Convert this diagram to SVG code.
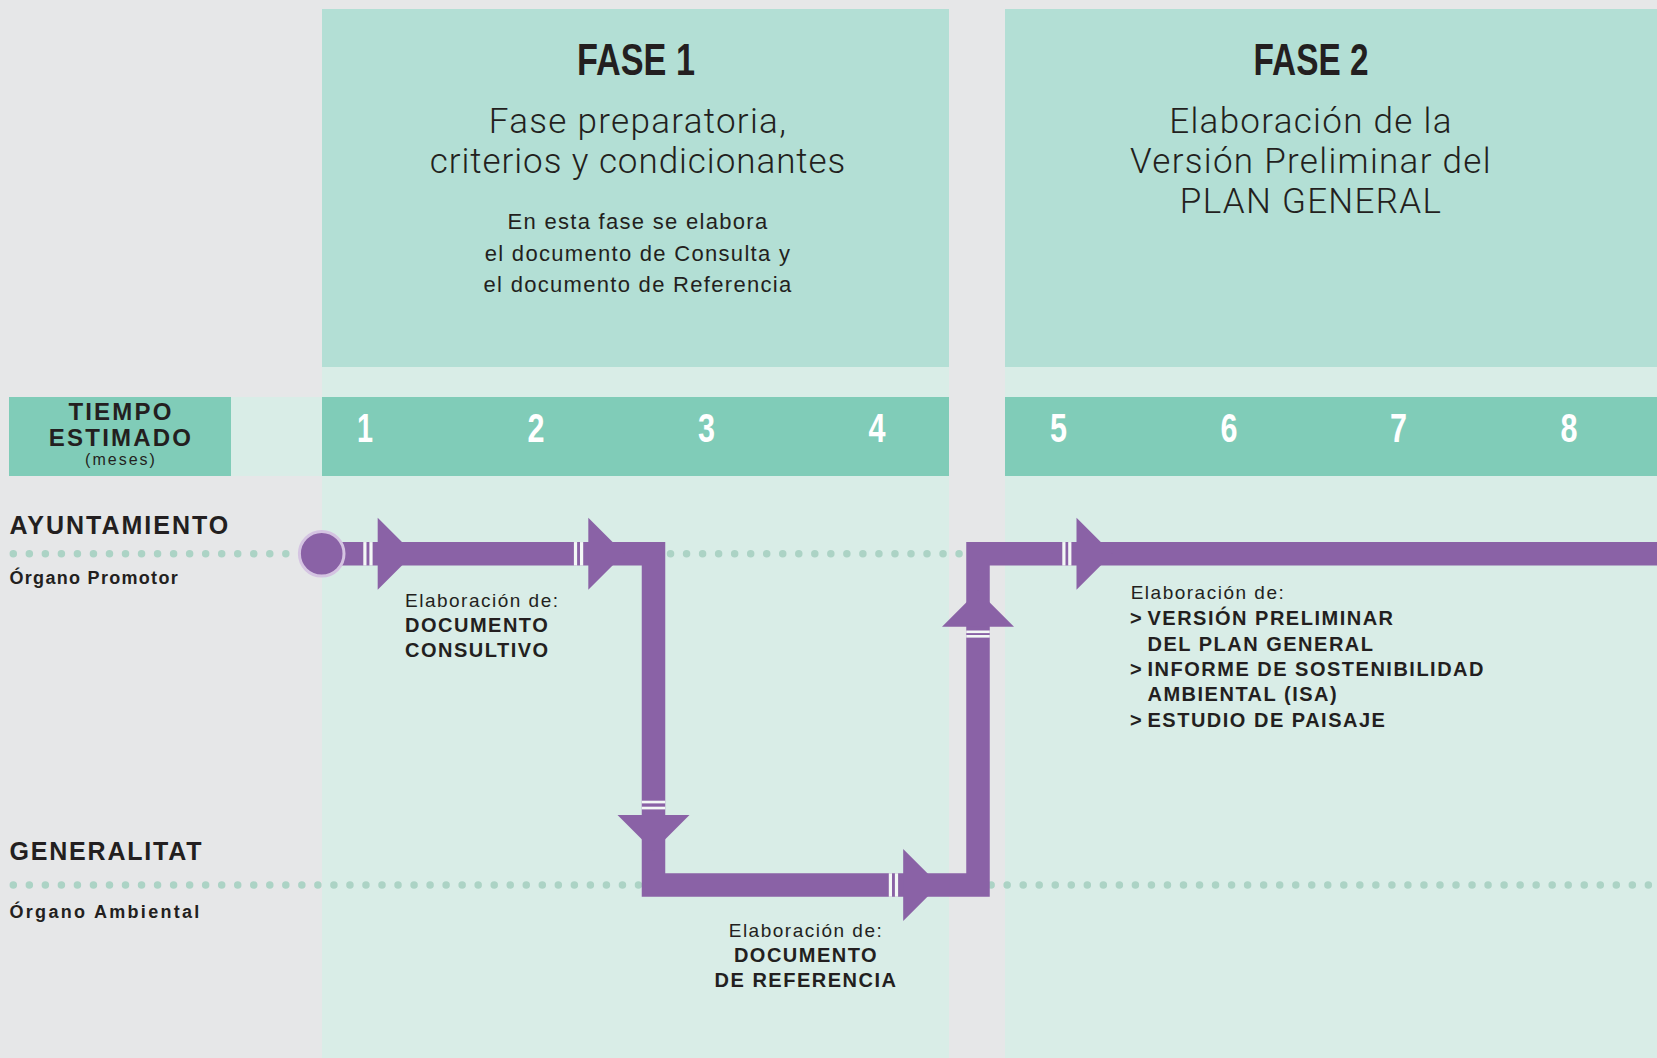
<svg xmlns="http://www.w3.org/2000/svg" width="1657" height="1058" viewBox="0 0 1657 1058">
<style>
.bg{fill:#e6e7e8}
.pale{fill:#d9ede7}
.phase{fill:#b3dfd5}
.teal{fill:#80ccb8}
.title{font-family:"Liberation Sans",Arial,sans-serif;font-weight:700;font-size:45px;fill:#231f20}
.sub{font-family:Roboto,"Liberation Sans",sans-serif;font-weight:300;font-size:35px;letter-spacing:1.3px;fill:#231f20}
.desc{font-family:"Liberation Sans",Arial,sans-serif;font-size:22px;letter-spacing:1.3px;fill:#231f20}
.num{font-family:"Liberation Sans",Arial,sans-serif;font-weight:700;font-size:40px;fill:#ffffff}
.hdr{font-family:"Liberation Sans",Arial,sans-serif;font-weight:700;font-size:24px;letter-spacing:2.2px;fill:#231f20}
.lane{font-family:"Liberation Sans",Arial,sans-serif;font-weight:700;font-size:25px;letter-spacing:2px;fill:#231f20}
.meses{font-family:"Liberation Sans",Arial,sans-serif;font-size:16px;letter-spacing:2px;fill:#231f20}
.sublane{font-family:"Liberation Sans",Arial,sans-serif;font-weight:700;font-size:18px;fill:#231f20}
.lbl{font-family:"Liberation Sans",Arial,sans-serif;font-size:19px;letter-spacing:1.5px;fill:#231f20}
.lblb{font-family:"Liberation Sans",Arial,sans-serif;font-weight:700;font-size:20px;letter-spacing:1.5px;fill:#231f20}
.dots{stroke:#acd3c5;stroke-width:7.5;stroke-linecap:round;stroke-dasharray:0 16.03;fill:none}
.pipe{stroke:#8a62a6;stroke-width:23.5;fill:none;stroke-linejoin:miter;stroke-linecap:butt}
.arrow{fill:#8a62a6}
.sep{fill:#f3f8f6}
</style>
<rect class="bg" x="0" y="0" width="1657" height="1058"/>

<g id="fase1">
  <rect class="pale" x="322" y="9" width="627" height="1049"/>
  <rect class="phase" x="322" y="9" width="627" height="358"/>
  <text class="title" x="636" y="75" text-anchor="middle" textLength="118" lengthAdjust="spacingAndGlyphs">FASE 1</text>
  <text class="sub" x="638" y="133" text-anchor="middle">Fase preparatoria,</text>
  <text class="sub" x="638" y="173" text-anchor="middle" style="letter-spacing:0.95px">criterios y condicionantes</text>
  <text class="desc" x="638" y="229.3" text-anchor="middle">En esta fase se elabora</text>
  <text class="desc" x="638" y="261" text-anchor="middle">el documento de Consulta y</text>
  <text class="desc" x="638" y="292" text-anchor="middle">el documento de Referencia</text>
</g>

<g id="fase2">
  <rect class="pale" x="1005" y="9" width="652" height="1049"/>
  <rect class="phase" x="1005" y="9" width="652" height="358"/>
  <text class="title" x="1311" y="75" text-anchor="middle" textLength="115" lengthAdjust="spacingAndGlyphs">FASE 2</text>
  <text class="sub" x="1311" y="133" text-anchor="middle">Elaboración de la</text>
  <text class="sub" x="1311" y="173" text-anchor="middle">Versión Preliminar del</text>
  <text class="sub" x="1311" y="213" text-anchor="middle">PLAN GENERAL</text>
</g>

<g id="tiempo">
  <rect class="teal" x="9" y="397" width="222" height="79"/>
  <rect class="pale" x="231" y="397" width="91" height="79"/>
  <text class="hdr" x="121" y="420" text-anchor="middle">TIEMPO</text>
  <text class="hdr" x="121" y="446" text-anchor="middle">ESTIMADO</text>
  <text class="meses" x="121" y="464.5" text-anchor="middle">(meses)</text>
</g>

<g id="meses-fase1">
  <rect class="teal" x="322" y="397" width="627" height="79"/>
  <text class="num" x="365" y="441.5" text-anchor="middle" textLength="16" lengthAdjust="spacingAndGlyphs">1</text>
  <text class="num" x="536" y="441.5" text-anchor="middle" textLength="17" lengthAdjust="spacingAndGlyphs">2</text>
  <text class="num" x="706.5" y="441.5" text-anchor="middle" textLength="17" lengthAdjust="spacingAndGlyphs">3</text>
  <text class="num" x="877" y="441.5" text-anchor="middle" textLength="17" lengthAdjust="spacingAndGlyphs">4</text>
</g>

<g id="meses-fase2">
  <rect class="teal" x="1005" y="397" width="652" height="79"/>
  <text class="num" x="1058.5" y="441.5" text-anchor="middle" textLength="17" lengthAdjust="spacingAndGlyphs">5</text>
  <text class="num" x="1229" y="441.5" text-anchor="middle" textLength="17" lengthAdjust="spacingAndGlyphs">6</text>
  <text class="num" x="1398.5" y="441.5" text-anchor="middle" textLength="17" lengthAdjust="spacingAndGlyphs">7</text>
  <text class="num" x="1569" y="441.5" text-anchor="middle" textLength="17" lengthAdjust="spacingAndGlyphs">8</text>
</g>

<g id="ayuntamiento">
  <text class="lane" x="9.5" y="533.5">AYUNTAMIENTO</text>
  <text class="sublane" x="9.5" y="584" style="letter-spacing:1.3px">Órgano Promotor</text>
  <line class="dots" x1="13.3" y1="553.8" x2="1657" y2="553.8"/>
</g>

<g id="generalitat">
  <text class="lane" x="9.5" y="860" style="letter-spacing:1.8px">GENERALITAT</text>
  <text class="sublane" x="9.5" y="918.3" style="letter-spacing:2.3px">Órgano Ambiental</text>
  <line class="dots" x1="13.3" y1="885" x2="1657" y2="885"/>
</g>

<g id="connectors">
  <path class="pipe" d="M321.7 553.8 H653.5 V885 H978 V553.8 H1657"/>
  <circle cx="321.7" cy="553.8" r="22.3" fill="#8a62a6" stroke="#d5c4e2" stroke-width="3"/>
  <polygon class="arrow" points="377.7,517.8 413.7,553.8 377.7,589.8"/>
  <polygon class="arrow" points="588.3,517.8 624.3,553.8 588.3,589.8"/>
  <polygon class="arrow" points="617.5,815 689.5,815 653.5,851"/>
  <polygon class="arrow" points="903.2,849 939.2,885 903.2,921"/>
  <polygon class="arrow" points="942,626.7 1014,626.7 978,590.7"/>
  <polygon class="arrow" points="1076.5,517.8 1112.5,553.8 1076.5,589.8"/>
  <rect class="sep" x="363.3" y="542.05" width="3.2" height="23.5"/>
  <rect class="sep" x="369.4" y="542.05" width="3.2" height="23.5"/>
  <rect class="sep" x="573.9" y="542.05" width="3.2" height="23.5"/>
  <rect class="sep" x="580" y="542.05" width="3.2" height="23.5"/>
  <rect class="sep" x="641.75" y="800.7" width="23.5" height="2.7"/>
  <rect class="sep" x="641.75" y="806.7" width="23.5" height="2.7"/>
  <rect class="sep" x="888.8" y="873.25" width="3.2" height="23.5"/>
  <rect class="sep" x="894.9" y="873.25" width="3.2" height="23.5"/>
  <rect class="sep" x="966.25" y="630.5" width="23.5" height="2.6"/>
  <rect class="sep" x="966.25" y="635" width="23.5" height="2.6"/>
  <rect class="sep" x="1062.3" y="542.05" width="3.2" height="23.5"/>
  <rect class="sep" x="1068.2" y="542.05" width="3.2" height="23.5"/>
</g>

<g id="label-consultivo">
  <text class="lbl" x="405" y="606.7">Elaboración de:</text>
  <text class="lblb" x="405" y="631.7">DOCUMENTO</text>
  <text class="lblb" x="405" y="656.7">CONSULTIVO</text>
</g>

<g id="label-referencia">
  <text class="lbl" x="806" y="936.7" text-anchor="middle">Elaboración de:</text>
  <text class="lblb" x="806" y="962" text-anchor="middle">DOCUMENTO</text>
  <text class="lblb" x="806" y="987" text-anchor="middle">DE REFERENCIA</text>
</g>

<g id="label-version">
  <text class="lbl" x="1130.7" y="599">Elaboración de:</text>
  <text class="lblb" x="1130" y="625">&gt;</text>
  <text class="lblb" x="1147.5" y="625">VERSIÓN PRELIMINAR</text>
  <text class="lblb" x="1147.5" y="650.5">DEL PLAN GENERAL</text>
  <text class="lblb" x="1130" y="676">&gt;</text>
  <text class="lblb" x="1147.5" y="676">INFORME DE SOSTENIBILIDAD</text>
  <text class="lblb" x="1147.5" y="701">AMBIENTAL (ISA)</text>
  <text class="lblb" x="1130" y="726.5">&gt;</text>
  <text class="lblb" x="1147.5" y="726.5">ESTUDIO DE PAISAJE</text>
</g>
</svg>
